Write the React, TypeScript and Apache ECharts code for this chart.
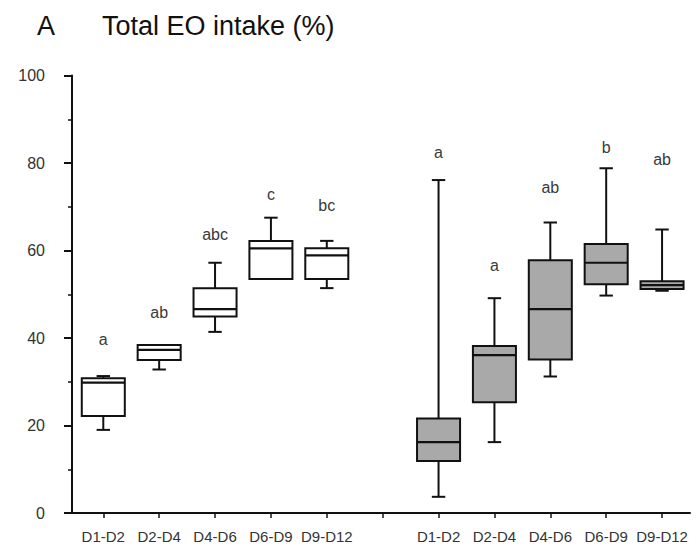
import React, { useEffect, useRef } from "react";
import * as echarts from "echarts";

const FONT = "'Liberation Sans', Arial, Helvetica, sans-serif";

// categories (time intervals)
const categories = ["D1-D2", "D2-D4", "D4-D6", "D6-D9", "D9-D12"];
const whitePositions = [0, 1, 2, 3, 4];
const grayPositions = [6, 7, 8, 9, 10];

// white boxes (left group)
const whiteMin = [19.0, 32.8, 41.4, 53.5, 51.4];
const whiteQ1 = [22.2, 35.0, 44.9, 53.5, 53.5];
const whiteMedian = [29.8, 37.3, 46.6, 60.5, 58.9];
const whiteQ3 = [30.8, 38.4, 51.4, 62.2, 60.5];
const whiteMax = [31.3, 38.4, 57.2, 67.5, 62.2];
const whiteLetters = ["a", "ab", "abc", "c", "bc"];
const whiteLetterY = [39.7, 45.8, 63.7, 72.7, 70.2];

// gray boxes (right group)
const grayMin = [3.7, 16.2, 31.2, 49.7, 50.8];
const grayQ1 = [11.9, 25.3, 35.1, 52.3, 51.2];
const grayMedian = [16.2, 36.1, 46.6, 57.2, 52.1];
const grayQ3 = [21.6, 38.2, 57.8, 61.5, 53.0];
const grayMax = [76.1, 49.1, 66.4, 78.8, 64.8];
const grayLetters = ["a", "a", "ab", "b", "ab"];
const grayLetterY = [82.4, 56.5, 74.4, 83.6, 80.8];

const yTicks = [0, 20, 40, 60, 80, 100];

function buildData(pos: number[], mn: number[], q1: number[], md: number[], q3: number[], mx: number[], ly: number[]) {
  return pos.map((p, i) => [p, mn[i], q1[i], md[i], q3[i], mx[i], ly[i]]);
}

function makeRenderItem(fill: string, letters: string[]) {
  return (params: any, api: any) => {
    const x = api.value(0);
    const mn = api.value(1);
    const q1 = api.value(2);
    const md = api.value(3);
    const q3 = api.value(4);
    const mx = api.value(5);
    const ly = api.value(6);
    const unit = api.size([1, 0])[0];
    const bw = unit * 0.77;
    const cw = unit * 0.24;
    const pMin = api.coord([x, mn]);
    const pQ1 = api.coord([x, q1]);
    const pMd = api.coord([x, md]);
    const pQ3 = api.coord([x, q3]);
    const pMax = api.coord([x, mx]);
    const pL = api.coord([x, ly]);
    const cx = pMd[0];
    const stroke = { stroke: "#111", lineWidth: 2 };
    const children: any[] = [];
    if (mx > q3) {
      children.push({ type: "line", shape: { x1: cx, y1: pMax[1], x2: cx, y2: pQ3[1] }, style: stroke });
      children.push({ type: "line", shape: { x1: cx - cw / 2, y1: pMax[1], x2: cx + cw / 2, y2: pMax[1] }, style: stroke });
    }
    if (mn < q1) {
      children.push({ type: "line", shape: { x1: cx, y1: pQ1[1], x2: cx, y2: pMin[1] }, style: stroke });
      children.push({ type: "line", shape: { x1: cx - cw / 2, y1: pMin[1], x2: cx + cw / 2, y2: pMin[1] }, style: stroke });
    }
    children.push({
      type: "rect",
      shape: { x: cx - bw / 2, y: pQ3[1], width: bw, height: pQ1[1] - pQ3[1] },
      style: { fill, stroke: "#111", lineWidth: 2 },
    });
    children.push({ type: "line", shape: { x1: cx - bw / 2, y1: pMd[1], x2: cx + bw / 2, y2: pMd[1] }, style: { stroke: "#111", lineWidth: 2.2 } });
    children.push({
      type: "text",
      x: cx,
      y: pL[1],
      style: { text: letters[params.dataIndex], fill: "#3a3a3a", fontSize: 16, fontFamily: FONT, align: "center", verticalAlign: "middle" },
    });
    return { type: "group", children };
  };
}

export default function App() {
  const ref = useRef<HTMLDivElement>(null);
  useEffect(() => {
    if (!ref.current) return;
    const chart = echarts.init(ref.current, null, { renderer: "svg" });
    const labelPositions = [...whitePositions, ...grayPositions];
    const tickPositions = [0, 1, 2, 3, 4, 5, 6, 7, 8, 9, 10];
    chart.setOption({
      animation: false,
      backgroundColor: "#ffffff",
      graphic: [
        { type: "text", left: 37, top: 12, style: { text: "A", fontSize: 27, fill: "#111", fontFamily: FONT } },
        { type: "text", left: 102, top: 12, style: { text: "Total EO intake (%)", fontSize: 27, fill: "#111", fontFamily: FONT } },
      ],
      grid: { left: 72, right: 8, top: 75.5, bottom: 41 },
      xAxis: {
        type: "value",
        min: -0.56,
        max: 10.5,
        splitLine: { show: false },
        axisLine: { show: true, onZero: false, lineStyle: { color: "#111", width: 2 } },
        axisTick: { show: true, length: 5, customValues: tickPositions, lineStyle: { color: "#111", width: 1.5 } },
        axisLabel: {
          customValues: labelPositions,
          fontSize: 15,
          color: "#333",
          fontFamily: FONT,
          margin: 16,
          formatter: (v: number) => {
            const i = Math.round(v);
            if (i <= 4) return categories[i];
            if (i >= 6) return categories[i - 6];
            return "";
          },
        },
      },
      yAxis: {
        type: "value",
        min: yTicks[0],
        max: yTicks[yTicks.length - 1],
        interval: 20,
        splitLine: { show: false },
        axisLine: { show: true, onZero: false, lineStyle: { color: "#111", width: 2 } },
        axisTick: { show: true, length: 8, lineStyle: { color: "#111", width: 2 } },
        minorTick: { show: true, splitNumber: 2, length: 4, lineStyle: { color: "#111", width: 1.5 } },
        axisLabel: { fontSize: 16, color: "#333", fontFamily: FONT, margin: 27 },
      },
      series: [
        {
          type: "custom",
          name: "white",
          renderItem: makeRenderItem("#ffffff", whiteLetters),
          encode: { x: 0, y: [1, 2, 3, 4, 5, 6] },
          data: buildData(whitePositions, whiteMin, whiteQ1, whiteMedian, whiteQ3, whiteMax, whiteLetterY),
        },
        {
          type: "custom",
          name: "gray",
          renderItem: makeRenderItem("#a9a9a9", grayLetters),
          encode: { x: 0, y: [1, 2, 3, 4, 5, 6] },
          data: buildData(grayPositions, grayMin, grayQ1, grayMedian, grayQ3, grayMax, grayLetterY),
        },
      ],
    });
    return () => chart.dispose();
  }, []);
  return <div ref={ref} style={{ position: "fixed", left: 0, top: 0, width: 698, height: 554 }} />;
}
